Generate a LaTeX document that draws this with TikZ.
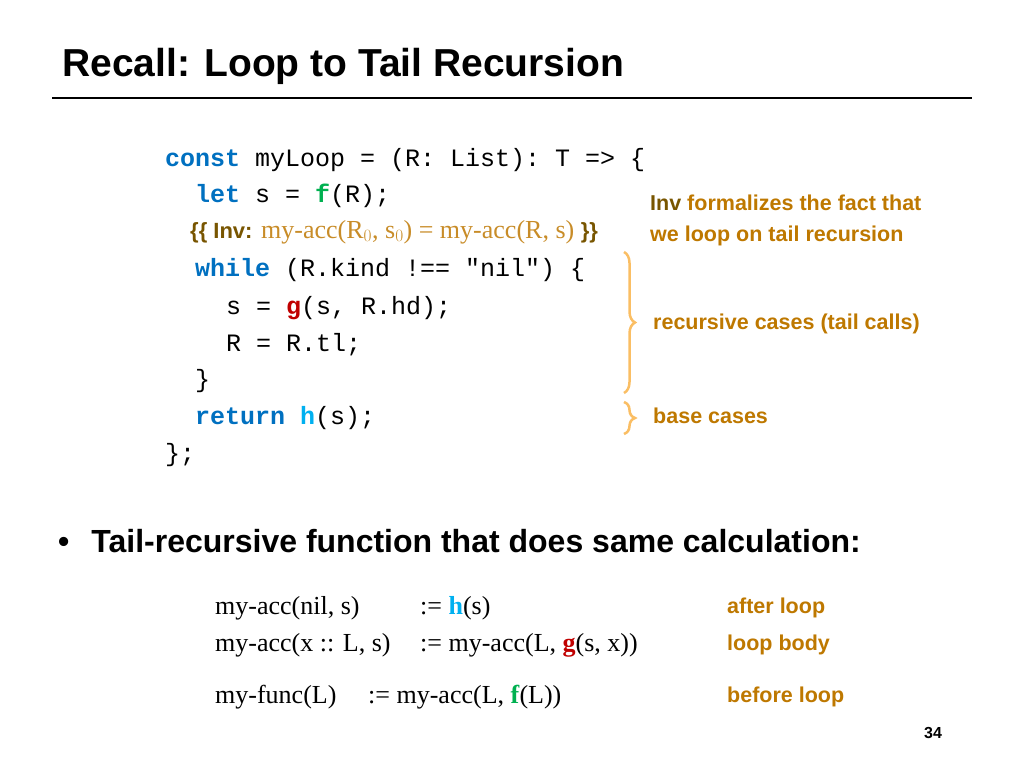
\documentclass[tikz,border=0pt]{standalone}
\usepackage{fontspec}
\setmainfont{Liberation Serif}
\setsansfont{Liberation Sans}
\setmonofont{Liberation Mono}
\usetikzlibrary{positioning, decorations.pathreplacing}
\definecolor{kwblue}{RGB}{0,112,192}
\definecolor{fgreen}{RGB}{0,176,80}
\definecolor{gred}{RGB}{192,0,0}
\definecolor{hcyan}{RGB}{0,176,240}
\definecolor{note}{RGB}{190,120,0}
\definecolor{invbrown}{RGB}{120,85,0}
\definecolor{invgold}{RGB}{200,140,40}
\definecolor{bracecol}{RGB}{250,190,100}
\newcommand{\kw}[1]{\textcolor{kwblue}{\textbf{#1}}}

\begin{document}
\begin{tikzpicture}[
    x=1pt, y=-1pt,
    % styles
    code/.style={anchor=west, inner sep=0pt, font=\fontsize{25}{25}\ttfamily},
    notetext/.style={anchor=west, inner sep=0pt, text=note, font=\fontsize{21.5}{31}\sffamily\bfseries, align=left},
    mathline/.style={anchor=west, inner sep=0pt, font=\fontsize{26}{26}\rmfamily},
    bracestyle/.style={draw=bracecol, line width=2.5pt, decorate, decoration={brace, amplitude=11pt}}
]
    \useasboundingbox (0,0) rectangle (1024,768);

    % --- title ---
    \node[anchor=west, inner sep=0pt, font=\fontsize{39}{39}\sffamily\bfseries] (title) at (62,66) {Recall: Loop to Tail Recursion};
    \draw[line width=2pt] (52,98) -- (972,98);

    % --- code ---
    \node[code] (l1) at (165,160) {\kw{const} myLoop = (R: List): T => \{};
    \node[code] (l2) at (195,196) {\kw{let} s = \textcolor{fgreen}{\textbf{f}}(R);};
    \node[anchor=west, inner sep=0pt, font=\fontsize{26}{26}\rmfamily] (inv) at (190,232)
        {\textcolor{invbrown}{\sffamily\bfseries\fontsize{22}{22}\selectfont\{\{ Inv:} \textcolor{invgold}{my-acc(R$_0$, s$_0$) = my-acc(R, s)} \textcolor{invbrown}{\sffamily\bfseries\fontsize{22}{22}\selectfont\}\}}};
    \node[code] (l3) at (195,270) {\kw{while} (R.kind !== "nil") \{};
    \node[code] (l4) at (226,308) {s = \textcolor{gred}{\textbf{g}}(s, R.hd);};
    \node[code] (l5) at (226,345) {R = R.tl;};
    \node[code] (l6) at (195,381) {\}};
    \node[code] (l7) at (195,418) {\kw{return} \textcolor{hcyan}{\textbf{h}}(s);};
    \node[code] (l8) at (165,455) {\};};

    % --- notes and braces ---
    \node[notetext] (invnote) at (650,220) {\textcolor{invbrown}{Inv} formalizes the fact that\\we loop on tail recursion};
    \coordinate (recTop) at (624,252);
    \coordinate (recBot) at (624,393);
    \draw[bracestyle] (recTop) -- (recBot);
    \node[notetext] (recnote) at (653,324) {recursive cases (tail calls)};
    \coordinate (baseTop) at (624,402);
    \coordinate (baseBot) at (624,434);
    \draw[bracestyle] (baseTop) -- (baseBot);
    \node[notetext] (basenote) at (653,416) {base cases};

    % --- bullet ---
    \node[anchor=west, inner sep=0pt, font=\fontsize{32}{32}\sffamily\bfseries] (bullet) at (58,541) {\textbullet\hspace{22pt}Tail-recursive function that does same calculation:};

    % --- tail recursive definitions ---
    \node[mathline] (d1l) at (215,608) {my-acc(nil, s)};
    \node[mathline] (d1r) at (420,608) {:= \textcolor{hcyan}{\textbf{h}}(s)};
    \node[mathline] (d2l) at (215,645) {my-acc(x :: L, s)};
    \node[mathline] (d2r) at (420,645) {:= my-acc(L, \textcolor{gred}{\textbf{g}}(s, x))};
    \node[mathline] (d3l) at (215,697) {my-func(L)};
    \node[mathline] (d3r) at (368,697) {:= my-acc(L, \textcolor{fgreen}{\textbf{f}}(L))};
    \node[notetext] (n1) at (727,608) {after loop};
    \node[notetext] (n2) at (727,645) {loop body};
    \node[notetext] (n3) at (727,697) {before loop};

    % --- page number ---
    \node[anchor=center, inner sep=0pt, font=\fontsize{16}{16}\sffamily\bfseries] (page) at (933,733) {34};
\end{tikzpicture}
\end{document}
